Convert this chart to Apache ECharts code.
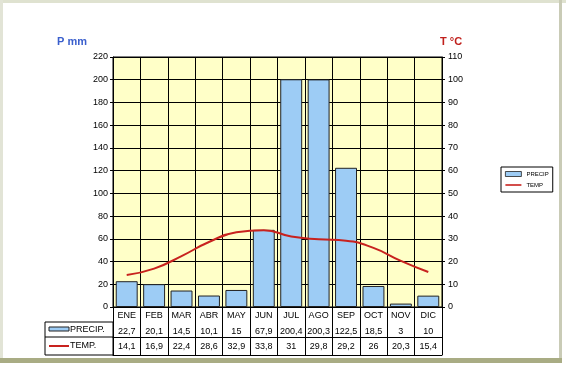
<!DOCTYPE html>
<html><head><meta charset="utf-8">
<script src="https://cdn.jsdelivr.net/npm/echarts@6/dist/echarts.min.js"></script>
<style>html,body{margin:0;padding:0;background:#fff;}#c{width:566px;height:371px;}</style>
</head><body><div id="c"></div>
<script>
var months = ['ENE','FEB','MAR','ABR','MAY','JUN','JUL','AGO','SEP','OCT','NOV','DIC'];
var precip = [22.7,20.1,14.5,10.1,15,67.9,200.4,200.3,122.5,18.5,3,10];
var temp = [14.1,16.9,22.4,28.6,32.9,33.8,31,29.8,29.2,26,20.3,15.4];
var leftTicks = {min:0,max:220,interval:20};
var rightTicks = {min:0,max:110,interval:10};

function fmt(v){ return String(v).replace('.', ','); }
var FONT = "'Liberation Sans', Arial, sans-serif";
var chart = echarts.init(document.getElementById('c'), null, {renderer:'canvas'});
function tableAxis(offset, arr, showLabel, margin){
  return {
    type:'category', data: months, position:'bottom', offset: offset, gridIndex:0,
    boundaryGap:true,
    axisLine:{show:true, lineStyle:{color:'#000', width:1}},
    axisTick:{show:false},
    axisLabel:{show:showLabel, interval:0, margin:margin, fontSize:9, color:'#000', fontFamily:FONT,
      formatter:function(v,i){ return arr ? fmt(arr[i]) : v; }},
    splitLine:{show:false}
  };
}
chart.setOption({
  animation:false,
  textStyle:{fontFamily:FONT},
  title:[
    {text:'P mm', left:52, top:31, textStyle:{color:'#3a5fcd', fontSize:11, fontWeight:'bold', fontFamily:FONT}},
    {text:'T °C', left:435, top:31, textStyle:{color:'#c0201c', fontSize:11, fontWeight:'bold', fontFamily:FONT}}
  ],
  legend:{
    orient:'vertical', left:501, top:167, padding:[4,4,4,4], itemGap:5,
    itemWidth:16, itemHeight:5, borderColor:'#000', borderWidth:1,
    textStyle:{fontSize:6, color:'#000', fontFamily:FONT},
    data:[
      {name:'PRECIP', icon:'rect', itemStyle:{color:'#9dccf5', borderColor:'#222', borderWidth:0.8}},
      {name:'TEMP', icon:'path://M0,0L16,0L16,1.6L0,1.6Z', itemStyle:{color:'#c8221e', borderWidth:0}}
    ]
  },
  grid:{left:113, right:124, top:57, bottom:64, show:true, backgroundColor:'#ffffc8', borderColor:'#000', borderWidth:1},
  xAxis:[
    {
      type:'category', data: months, position:'bottom', boundaryGap:true,
      axisLine:{show:true, lineStyle:{color:'#000'}},
      axisTick:{show:true, interval:0, length:48, lineStyle:{color:'#000'}},
      axisLabel:{interval:0, margin:4, fontSize:9, color:'#000', fontFamily:FONT},
      splitLine:{show:true, interval:0, lineStyle:{color:'#000', width:1}}
    },
    tableAxis(15, precip, true, 5),
    tableAxis(30, temp, true, 5),
    tableAxis(48, null, false, 4)
  ],
  yAxis:[
    {
      type:'value', min:leftTicks.min, max:leftTicks.max, interval:leftTicks.interval, position:'left',
      axisLine:{show:true, lineStyle:{color:'#000'}},
      axisTick:{show:true, length:3, lineStyle:{color:'#000'}},
      axisLabel:{fontSize:9, color:'#000', margin:5, fontFamily:FONT},
      splitLine:{show:true, lineStyle:{color:'#000', width:1}}
    },
    {
      type:'value', min:rightTicks.min, max:rightTicks.max, interval:rightTicks.interval, position:'right',
      axisLine:{show:true, lineStyle:{color:'#000'}},
      axisTick:{show:true, length:3, lineStyle:{color:'#000'}},
      axisLabel:{fontSize:9, color:'#000', margin:6, fontFamily:FONT},
      splitLine:{show:false}
    }
  ],
  series:[
    {name:'PRECIP', type:'bar', data:precip, xAxisIndex:0, yAxisIndex:0, barCategoryGap:'20%',
     itemStyle:{color:'#9dccf5', borderColor:'#222', borderWidth:1}},
    {name:'TEMP', type:'line', data:temp, xAxisIndex:0, yAxisIndex:1, smooth:true, symbol:'none',
     lineStyle:{color:'#c8221e', width:2}, itemStyle:{color:'#c8221e'}, z:5}
  ],
  graphic:[
    {type:'rect', shape:{x:0,y:0,width:566,height:3}, style:{fill:'#dfe2d0'}, silent:true},
    {type:'rect', shape:{x:0,y:0,width:3,height:363}, style:{fill:'#e2e4d6'}, silent:true},
    {type:'rect', shape:{x:559,y:0,width:3,height:363}, style:{fill:'#c9cbb6'}, silent:true},
    {type:'rect', shape:{x:0,y:358,width:562,height:5}, style:{fill:'#a9ac84'}, silent:true},
    {type:'rect', shape:{x:45,y:322,width:68,height:33}, style:{fill:'#fff', stroke:'#000', lineWidth:1}, silent:true},
    {type:'line', shape:{x1:45,y1:337,x2:113,y2:337}, style:{stroke:'#000', lineWidth:1}, silent:true},
    {type:'rect', shape:{x:49,y:327,width:20,height:4}, style:{fill:'#9dccf5', stroke:'#222', lineWidth:1}, silent:true},
    {type:'text', x:70, y:330, style:{text:'PRECIP.', fontSize:9, fill:'#000', verticalAlign:'middle', fontFamily:FONT}, silent:true},
    {type:'line', shape:{x1:49,y1:346,x2:69,y2:346}, style:{stroke:'#c8221e', lineWidth:2}, silent:true},
    {type:'text', x:70, y:346, style:{text:'TEMP.', fontSize:9, fill:'#000', verticalAlign:'middle', fontFamily:FONT}, silent:true}
  ]
});
</script></body></html>
